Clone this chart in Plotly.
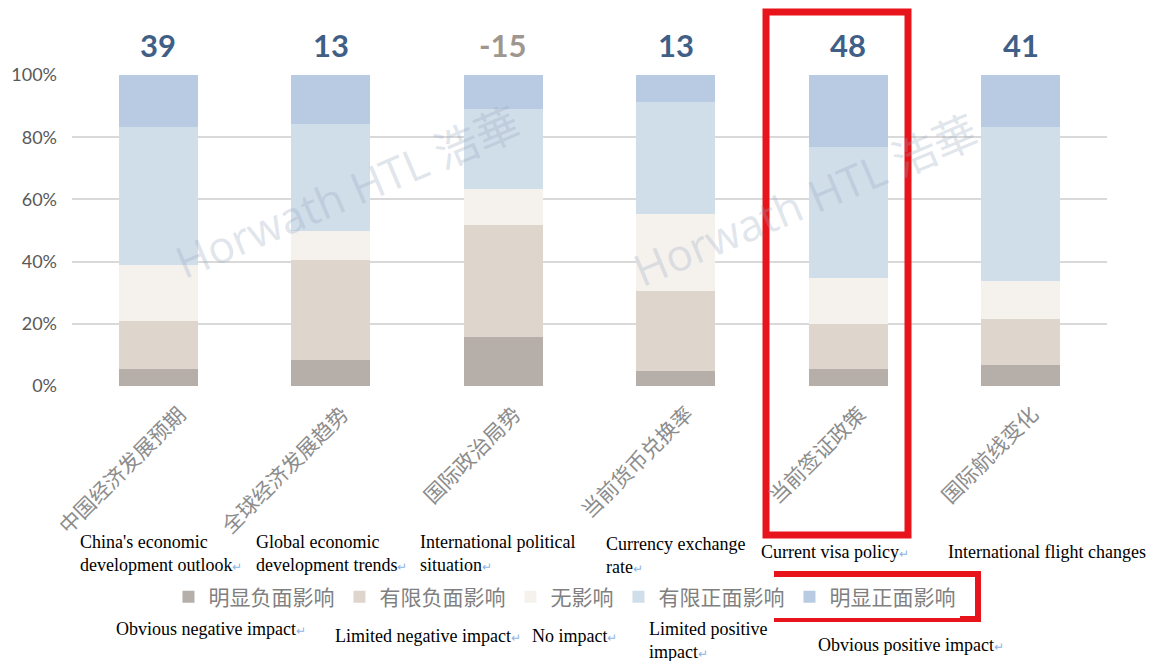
import plotly.graph_objects as go

categories_cn = ["中国经济发展预期", "全球经济发展趋势", "国际政治局势", "当前货币兑换率", "当前签证政策", "国际航线变化"]
categories_en = ["China's economic<br>development outlook", "Global economic<br>development trends",
                 "International political<br>situation", "Currency exchange<br>rate",
                 "Current visa policy", "International flight changes"]
net_scores = [39, 13, -15, 13, 48, 41]

obvious_negative = [5.5, 8.4, 15.9, 4.9, 5.5, 6.6]
limited_negative = [15.4, 32.1, 35.9, 25.7, 14.3, 14.8]
no_impact = [18.0, 9.3, 11.5, 24.7, 14.8, 12.4]
limited_positive = [44.3, 34.4, 25.9, 36.1, 42.1, 49.4]
obvious_positive = [16.8, 15.8, 10.8, 8.6, 23.3, 16.8]

series_cn = ["明显负面影响", "有限负面影响", "无影响", "有限正面影响", "明显正面影响"]
series_en = ["Obvious negative impact", "Limited negative impact", "No impact",
             "Limited positive<br>impact", "Obvious positive impact"]
colors = ["#b5aea9", "#ded5cc", "#f5f2ee", "#d0deea", "#b8cbe3"]
series_values = [obvious_negative, limited_negative, no_impact, limited_positive, obvious_positive]

W, H = 1152, 661
L, R, T, B = 72, 45, 75, 275
PW, PH = W - L - R, H - T - B

def px_x(p):
    return (p - L) / PW

def px_y(p):
    return (H - B - p) / PH

RET = "<span style='color:#8fb4e3;font-size:12px'>↵</span>"

fig = go.Figure()
xs = list(range(len(categories_cn)))
for name, vals, col in zip(series_cn, series_values, colors):
    fig.add_trace(go.Bar(x=xs, y=[v / 100 for v in vals], name=name, marker=dict(color=col, line=dict(width=0)),
                         width=0.46))

annotations = []
# watermarks
for px, py in [(347, 192), (805, 200)]:
    annotations.append(dict(x=px_x(px), y=px_y(py), xref="paper", yref="paper", text="Horwath HTL 浩華",
                            showarrow=False, textangle=-23, xanchor="center", yanchor="middle",
                            font=dict(family="Open Sans, Noto Sans CJK SC", size=44, color="rgba(150,165,190,0.30)")))
# net scores
for i, s in enumerate(net_scores):
    annotations.append(dict(x=i, y=1.0, xref="x", yref="y", yshift=30, text=f"<b>{s}</b>", showarrow=False,
                            font=dict(family="Lato, sans-serif", size=31, color="#9e9790" if s < 0 else "#3f5f86"),
                            yanchor="middle"))
# chinese category labels (rotated)
for i, c in enumerate(categories_cn):
    annotations.append(dict(x=i, y=0, xref="x", yref="y", text=c, showarrow=False, textangle=-45,
                            xanchor="right", yanchor="top", xshift=26 if i else 36, yshift=-10,
                            font=dict(family="Noto Sans CJK SC", size=21, color="#8c8c8c")))
# english category labels
en_pos = [(78, 553), (254, 553), (418, 553), (604, 555), (759, 552), (946, 552)]
for (px, py), t in zip(en_pos, categories_en):
    annotations.append(dict(x=px_x(px), y=px_y(py), xref="paper", yref="paper", text=t + (RET if "flight" not in t else ""),
                            showarrow=False, xanchor="left", yanchor="middle", align="left",
                            font=dict(family="Liberation Serif", size=18, color="#000000")))
# english legend labels
leg_pos = [(114, 629), (333, 636), (530, 636), (647, 640), (816, 645)]
for (px, py), t in zip(leg_pos, series_en):
    annotations.append(dict(x=px_x(px), y=px_y(py), xref="paper", yref="paper", text=t + RET,
                            showarrow=False, xanchor="left", yanchor="middle", align="left",
                            font=dict(family="Liberation Serif", size=18, color="#000000")))

shapes = [
    dict(type="rect", xref="paper", yref="paper", x0=px_x(766), x1=px_x(908), y0=px_y(535), y1=px_y(12),
         line=dict(color="#e8141b", width=7)),
    dict(type="rect", xref="paper", yref="paper", x0=px_x(777), x1=px_x(978), y0=px_y(619), y1=px_y(574),
         line=dict(color="#e8141b", width=6)),
]

fig.update_layout(
    barmode="stack",
    width=W, height=H,
    margin=dict(l=L, r=R, t=T, b=B, autoexpand=False),
    paper_bgcolor="white", plot_bgcolor="white",
    bargap=0.54,
    showlegend=True,
    legend=dict(orientation="h", xref="container", yref="container", x=0.49, y=1 - 597 / H,
                xanchor="center", yanchor="middle", traceorder="normal",
                font=dict(family="Noto Sans CJK SC", size=21, color="#808080"),
                itemwidth=30, tracegroupgap=0),
    xaxis=dict(range=[-0.5, 5.5], showticklabels=False, showgrid=False, zeroline=False, ticks=""),
    yaxis=dict(range=[0, 1], tickvals=[0, 0.2, 0.4, 0.6, 0.8, 1.0], tickformat=".0%",
               showgrid=True, gridcolor="#d9d9d9", gridwidth=2, zeroline=False, ticks="",
               tickfont=dict(family="Lato, sans-serif", size=18, color="#595959"), ticklabelstandoff=14),
    annotations=annotations,
    shapes=shapes,
)

fig.write_html("out.html")
